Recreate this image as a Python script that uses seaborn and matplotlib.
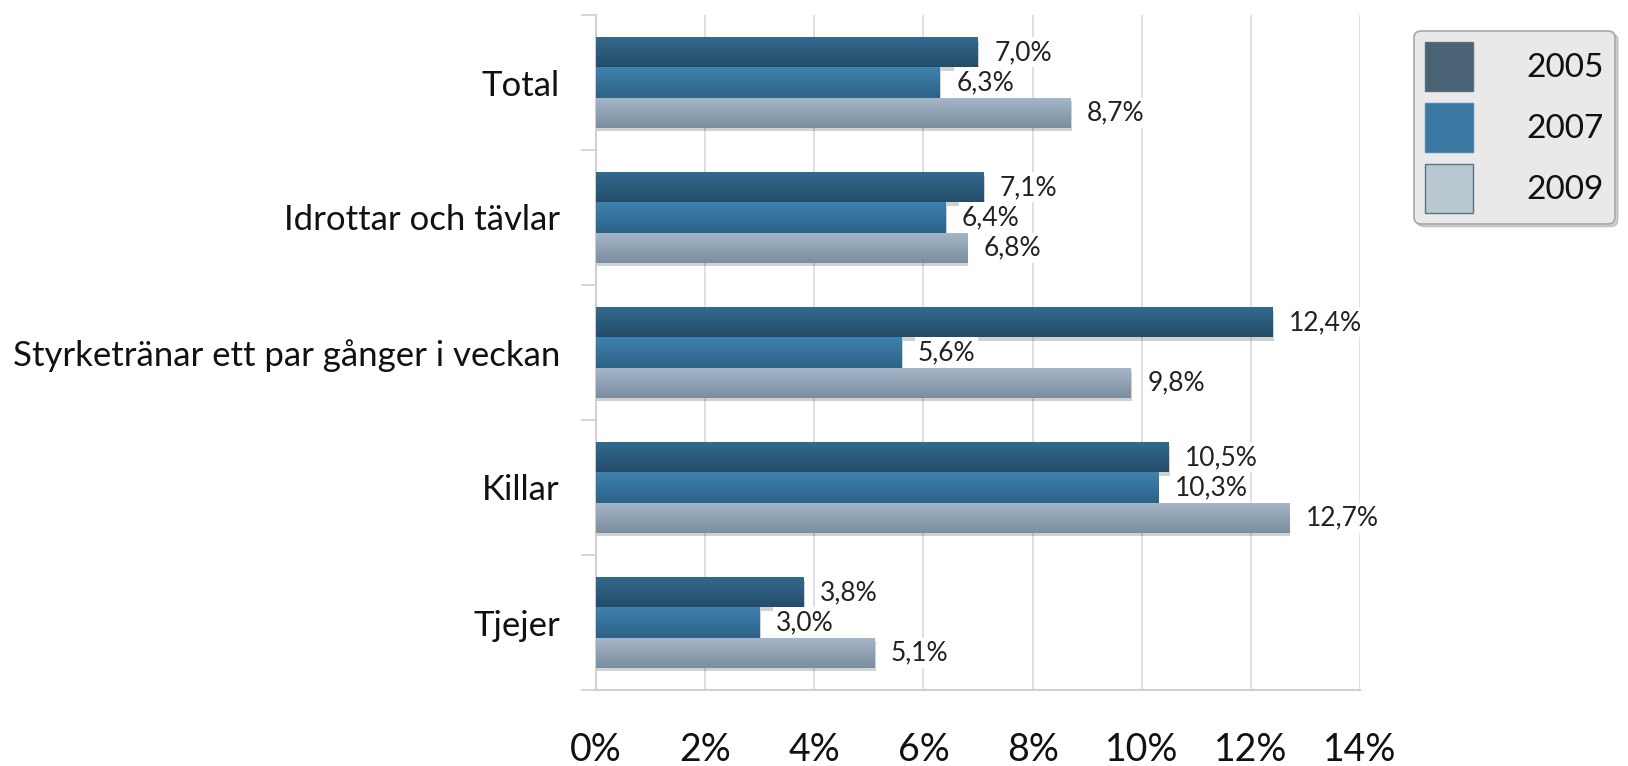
import numpy as np
import pandas as pd
import matplotlib
matplotlib.use("Agg")
import matplotlib.pyplot as plt
import seaborn as sns
from matplotlib.patches import Patch
from matplotlib.colors import to_rgb
import matplotlib.patheffects as pe

categories = ["Total", "Idrottar och tävlar", "Styrketränar ett par gånger i veckan", "Killar", "Tjejer"]
years = ["2005", "2007", "2009"]
v2005 = [7.0, 7.1, 12.4, 10.5, 3.8]
v2007 = [6.3, 6.4, 5.6, 10.3, 3.0]
v2009 = [8.7, 6.8, 9.8, 12.7, 5.1]
xticks = [0, 2, 4, 6, 8, 10, 12, 14]

df = pd.DataFrame({
    "cat": categories * 3,
    "year": [y for y in years for _ in categories],
    "val": v2005 + v2007 + v2009,
})

sns.set_theme(style="white")
plt.rcParams["font.family"] = ["Lato", "DejaVu Sans"]

base = {"2005": "#2d5f80", "2007": "#3676a0", "2009": "#93a8ba"}
grad = {
    "2005": ("#336b90", "#244c69"),
    "2007": ("#3e82ae", "#2e6287"),
    "2009": ("#a6b7c8", "#7a8ea0"),
}

fig = plt.figure(figsize=(16.28, 7.66), dpi=100)
ax = fig.add_axes([596 / 1628, 1 - 690 / 766, (1360 - 596) / 1628, (690 - 15) / 766])

sns.barplot(data=df, y="cat", x="val", hue="year", orient="h", order=categories,
            hue_order=years, palette=base, width=0.67, ax=ax, legend=False,
            saturation=1, edgecolor="none", linewidth=0, zorder=3)

ax.set_xlim(0, 14)
ax.set_ylim(4.5, -0.5)

# gradients
for container, yr in zip(ax.containers, years):
    c1, c2 = grad[yr]
    c1 = np.array(to_rgb(c1)); c2 = np.array(to_rgb(c2))
    g = np.linspace(0, 1, 64)[:, None]
    arr = (c1[None, :] * (1 - g) + c2[None, :] * g)[:, None, :]
    for patch in container.patches:
        patch.set_path_effects([pe.SimplePatchShadow(offset=(1, -2.5), shadow_rgbFace="black", alpha=0.18), pe.Normal()])
        x0, y0 = patch.get_x(), patch.get_y()
        w, h = patch.get_width(), patch.get_height()
        im = ax.imshow(arr, extent=[x0, x0 + w, y0 + h, y0], aspect="auto", origin="upper",
                       zorder=4, interpolation="bilinear")
        im.set_clip_path(patch)
    for patch, v in zip(container.patches, container.datavalues):
        y = patch.get_y() + patch.get_height() / 2
        ax.text(v + 0.3, y, f"{v:.1f}%".replace(".", ","), va="center", ha="left",
                fontsize=19, color="#222222", zorder=6,
                bbox=dict(boxstyle="square,pad=0.1", fc="white", ec="none"))

ax.set_xlim(0, 14)
ax.set_ylim(4.5, -0.5)
ax.set_xlabel("")
ax.set_ylabel("")
ax.set_xticks(xticks)
ax.set_xticklabels([f"{t}%" for t in xticks], fontsize=27, color="#111111")
ax.tick_params(axis="x", length=0, pad=30)
ax.grid(axis="x", color="#d9d9d9", linewidth=1.2, zorder=0)
ax.set_axisbelow(True)

ax.set_yticks(range(len(categories)))
ax.set_yticklabels(categories, fontsize=25, color="#111111")
ax.set_yticks(np.arange(-0.5, 5.0, 1.0), minor=True)
ax.tick_params(axis="y", which="major", length=0, pad=26)
ax.tick_params(axis="y", which="minor", length=11, width=1.2, color="#d0d0d0", left=True)

for s in ["top", "right"]:
    ax.spines[s].set_visible(False)
for s in ["left", "bottom"]:
    ax.spines[s].set_color("#d0d0d0")
    ax.spines[s].set_linewidth(1.5)

handles = [
    Patch(facecolor="#4a6374", edgecolor="#5a7080", label="2005"),
    Patch(facecolor="#3a78a2", edgecolor="#4a88b0", label="2007"),
    Patch(facecolor="#b9c7d0", edgecolor="#5c7282", label="2009"),
]
leg = fig.legend(handles=handles, loc="upper left", bbox_to_anchor=(1414 / 1628, 1 - 31 / 766),
                 bbox_transform=fig.transFigure, fontsize=24, frameon=True, fancybox=True,
                 shadow={"color": "gray", "alpha": 0.35}, facecolor="#e9e9e9", edgecolor="#a8a8a8",
                 handlelength=1.45, handleheight=1.88, handletextpad=1.6,
                 labelspacing=0.36, borderpad=0.33, borderaxespad=0)
leg.get_frame().set_linewidth(1.2)
for t in leg.get_texts():
    t.set_color("#111111")

fig.savefig("out.png", dpi=100)
